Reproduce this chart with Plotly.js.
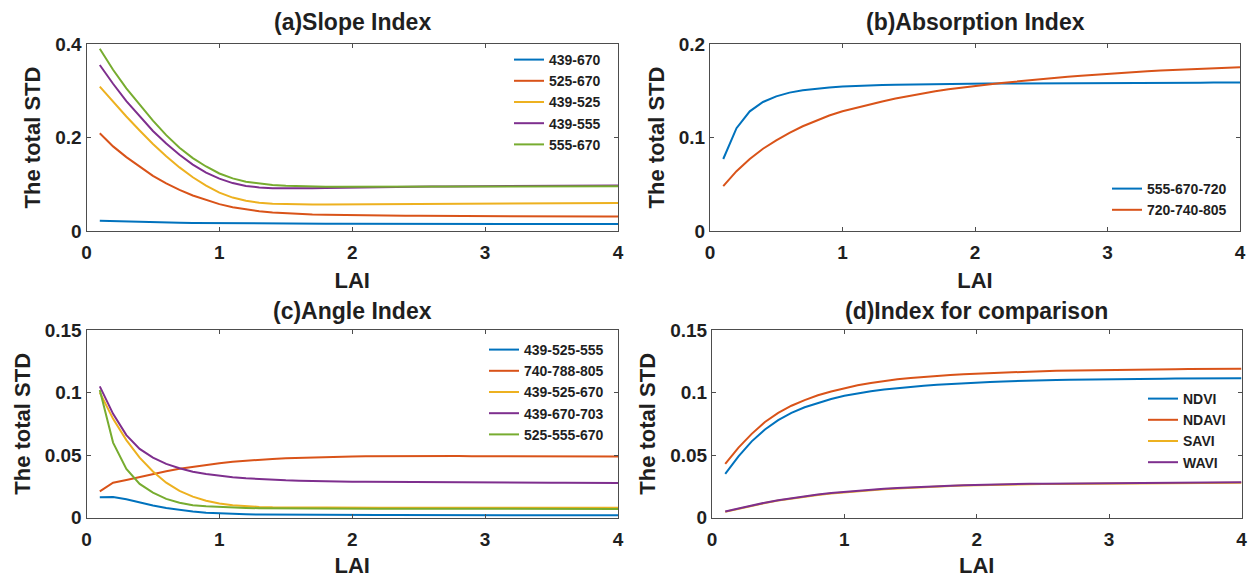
<!DOCTYPE html>
<html>
<head>
<meta charset="utf-8">
<script src="https://cdn.plot.ly/plotly-3.0.1.min.js"></script>
<style>html,body{margin:0;padding:0;background:#fff;}#chart{width:1248px;height:578px;}</style>
</head>
<body>
<div id="chart"></div>
<script>
// ---------------- DATA ----------------
const LAI = [0.1,0.2,0.3,0.4,0.5,0.6,0.7,0.8,0.9,1.0,
             1.1,1.2,1.3,1.4,1.5,1.6,1.7,1.8,1.9,2.0,
             2.1,2.2,2.3,2.4,2.5,2.6,2.7,2.8,2.9,3.0,
             3.1,3.2,3.3,3.4,3.5,3.6,3.7,3.8,3.9,4.0];

// (a) Slope Index
const slopeNames = ["439-670","525-670","439-525","439-555","555-670"];
const slope_439_670 = [0.0220,0.0210,0.0200,0.0192,0.0185,0.0180,0.0175,0.0171,0.0168,0.0165,
  0.0163,0.0161,0.0160,0.0159,0.0158,0.0157,0.0156,0.0156,0.0155,0.0155,
  0.0154,0.0154,0.0154,0.0153,0.0153,0.0153,0.0152,0.0152,0.0152,0.0152,
  0.0151,0.0151,0.0151,0.0151,0.0151,0.0150,0.0150,0.0150,0.0150,0.0150];
const slope_525_670 = [0.209,0.181,0.158,0.137,0.118,0.102,0.088,0.076,0.066,0.0575,
  0.0508,0.0458,0.0422,0.0396,0.0377,0.0363,0.0353,0.0345,0.0339,0.0335,
  0.0332,0.0329,0.0327,0.0325,0.0324,0.0322,0.0321,0.0320,0.0319,0.0318,
  0.0317,0.0316,0.0315,0.0314,0.0313,0.0312,0.0311,0.0310,0.0310,0.0309];
const slope_439_525 = [0.309,0.276,0.245,0.215,0.186,0.160,0.136,0.115,0.097,0.082,
  0.0715,0.0648,0.0605,0.0584,0.0573,0.0568,0.0566,0.0566,0.0567,0.0569,
  0.0571,0.0573,0.0575,0.0577,0.0579,0.0581,0.0583,0.0585,0.0587,0.0589,
  0.0590,0.0592,0.0593,0.0595,0.0596,0.0597,0.0598,0.0599,0.0600,0.0601];
const slope_439_555 = [0.355,0.315,0.278,0.245,0.214,0.187,0.163,0.142,0.125,0.112,
  0.1025,0.0965,0.0932,0.0917,0.0911,0.0910,0.0913,0.0918,0.0924,0.0930,
  0.0935,0.0939,0.0943,0.0946,0.0949,0.0952,0.0954,0.0956,0.0958,0.0960,
  0.0962,0.0964,0.0966,0.0967,0.0969,0.0970,0.0971,0.0972,0.0973,0.0974];
const slope_555_670 = [0.390,0.345,0.305,0.270,0.236,0.205,0.178,0.156,0.138,0.123,
  0.1125,0.1055,0.1012,0.0985,0.0968,0.0957,0.0950,0.0946,0.0944,0.0943,
  0.0943,0.0943,0.0944,0.0945,0.0946,0.0947,0.0948,0.0949,0.0950,0.0951,
  0.0952,0.0953,0.0954,0.0955,0.0955,0.0956,0.0957,0.0957,0.0958,0.0958];

// (b) Absorption Index
const absNames = ["555-670-720","720-740-805"];
const abs_555_670_720 = [0.077,0.110,0.128,0.138,0.144,0.148,0.1505,0.1522,0.1535,0.1545,
  0.1552,0.1557,0.1561,0.1564,0.1567,0.1569,0.1571,0.1573,0.1575,0.1576,
  0.1577,0.1578,0.1579,0.1580,0.1581,0.1582,0.1582,0.1583,0.1583,0.1584,
  0.1584,0.1585,0.1585,0.1585,0.1586,0.1586,0.1586,0.1587,0.1587,0.1587];
const abs_720_740_805 = [0.048,0.064,0.077,0.088,0.097,0.105,0.112,0.118,0.1235,0.128,
  0.1318,0.1353,0.1386,0.1416,0.1444,0.1470,0.1494,0.1515,0.1535,0.1552,
  0.1568,0.1583,0.1598,0.1612,0.1625,0.1638,0.1650,0.1661,0.1672,0.1682,
  0.1692,0.1701,0.1709,0.1717,0.1724,0.1730,0.1736,0.1742,0.1747,0.1752];

// (c) Angle Index
const angNames = ["439-525-555","740-788-805","439-525-670","439-670-703","525-555-670"];
const ang_439_525_555 = [0.0163,0.0165,0.0148,0.0122,0.0097,0.0077,0.0061,0.0049,0.0040,0.0034,
  0.0030,0.0027,0.0025,0.0024,0.0023,0.0023,0.0022,0.0022,0.0022,0.0022,
  0.0021,0.0021,0.0021,0.0021,0.0021,0.0021,0.0021,0.0021,0.0021,0.0021,
  0.0020,0.0020,0.0020,0.0020,0.0020,0.0020,0.0020,0.0020,0.0020,0.0020];
const ang_740_788_805 = [0.021,0.028,0.0302,0.0327,0.0350,0.0372,0.0391,0.0408,0.0423,0.0436,
  0.0447,0.0456,0.0464,0.0470,0.0475,0.0479,0.0483,0.0486,0.0488,0.0490,
  0.0491,0.0492,0.0492,0.0493,0.0493,0.0493,0.0493,0.0493,0.0492,0.0492,
  0.0492,0.0491,0.0491,0.0491,0.0490,0.0490,0.0490,0.0489,0.0489,0.0489];
const ang_439_525_670 = [0.100,0.079,0.062,0.048,0.037,0.028,0.0215,0.0168,0.0135,0.0113,
  0.0099,0.0091,0.0086,0.0083,0.0082,0.0081,0.0081,0.0080,0.0080,0.0080,
  0.0080,0.0080,0.0080,0.0080,0.0080,0.0080,0.0080,0.0080,0.0080,0.0080,
  0.0080,0.0080,0.0080,0.0080,0.0080,0.0080,0.0080,0.0080,0.0080,0.0080];
const ang_439_670_703 = [0.105,0.083,0.066,0.055,0.048,0.043,0.0395,0.0368,0.0349,0.0335,
  0.0324,0.0315,0.0308,0.0303,0.0299,0.0296,0.0293,0.0291,0.0289,0.0288,
  0.0287,0.0286,0.0285,0.0284,0.0283,0.0283,0.0282,0.0282,0.0281,0.0281,
  0.0280,0.0280,0.0280,0.0279,0.0279,0.0279,0.0279,0.0278,0.0278,0.0278];
const ang_525_555_670 = [0.102,0.060,0.039,0.027,0.020,0.015,0.012,0.010,0.0091,0.0085,
  0.0080,0.0078,0.0076,0.0075,0.0075,0.0074,0.0074,0.0073,0.0073,0.0073,
  0.0072,0.0072,0.0072,0.0072,0.0072,0.0071,0.0071,0.0071,0.0071,0.0071,
  0.0070,0.0070,0.0070,0.0070,0.0070,0.0070,0.0070,0.0070,0.0070,0.0070];

// (d) Index for comparison
const cmpNames = ["NDVI","NDAVI","SAVI","WAVI"];
const cmp_NDVI = [0.035,0.049,0.061,0.0705,0.078,0.0838,0.0883,0.0918,0.0948,0.0975,
  0.0994,0.1010,0.1024,0.1036,0.1046,0.1055,0.1063,0.1070,0.1076,0.1081,
  0.1085,0.1089,0.1093,0.1096,0.1099,0.1101,0.1103,0.1105,0.1107,0.1108,
  0.1109,0.1110,0.1111,0.1111,0.1112,0.1112,0.1113,0.1113,0.1113,0.1114];
const cmp_NDAVI = [0.043,0.056,0.067,0.0765,0.0838,0.0895,0.0940,0.0978,0.1009,0.1035,
  0.1058,0.1077,0.1093,0.1106,0.1117,0.1126,0.1134,0.1141,0.1147,0.1152,
  0.1157,0.1161,0.1165,0.1168,0.1171,0.1174,0.1176,0.1178,0.1180,0.1182,
  0.1183,0.1184,0.1185,0.1186,0.1187,0.1188,0.1188,0.1189,0.1189,0.1190];
const cmp_SAVI = [0.0047,0.0072,0.0097,0.0117,0.0137,0.0154,0.0167,0.0182,0.0194,0.0204,
  0.0213,0.0221,0.0228,0.0234,0.0240,0.0245,0.0249,0.0253,0.0257,0.0260,
  0.0262,0.0264,0.0266,0.0268,0.0269,0.0270,0.0271,0.0272,0.0273,0.0274,
  0.0275,0.0276,0.0277,0.0277,0.0278,0.0278,0.0279,0.0279,0.0280,0.0280];
const cmp_WAVI = [0.0050,0.0075,0.0100,0.0120,0.0140,0.0157,0.0170,0.0185,0.0197,0.0207,
  0.0216,0.0224,0.0231,0.0237,0.0243,0.0248,0.0252,0.0256,0.0260,0.0263,
  0.0265,0.0267,0.0269,0.0271,0.0272,0.0273,0.0274,0.0275,0.0276,0.0277,
  0.0278,0.0279,0.0280,0.0280,0.0281,0.0281,0.0282,0.0282,0.0283,0.0283];

// titles & ticks
const panelTitles = ["(a)Slope Index","(b)Absorption Index","(c)Angle Index","(d)Index for comparison"];
const xTickVals = [0,1,2,3,4];
const yTicksA = [0,0.2,0.4];
const yTicksB = [0,0.1,0.2];
const yTicksCD = [0,0.05,0.1,0.15];
const yTickTextA = ["0","0.2","0.4"];
const yTickTextB = ["0","0.1","0.2"];
const yTickTextCD = ["0","0.05","0.1","0.15"];

// ---------------- STYLE ----------------
const COLORS = ["#0072BD","#D95319","#EDB120","#7E2F8E","#77AC30"];
const FAM = "Liberation Sans, Arial, Helvetica, sans-serif";
const TXT = "#1f1f1f";
const AXC = "#4d4d4d";

function mk(names, series, ax){
  return series.map((s,i)=>({
    type:"scatter", mode:"lines", x:LAI, y:s, name:names[i],
    xaxis:"x"+(ax===1?"":ax), yaxis:"y"+(ax===1?"":ax),
    legend: "legend"+(ax===1?"":ax),
    line:{color:COLORS[i], width:2}
  }));
}
const data = [].concat(
  mk(slopeNames,[slope_439_670,slope_525_670,slope_439_525,slope_439_555,slope_555_670],1),
  mk(absNames,[abs_555_670_720,abs_720_740_805],2),
  mk(angNames,[ang_439_525_555,ang_740_788_805,ang_439_525_670,ang_439_670_703,ang_525_555_670],3),
  mk(cmpNames,[cmp_NDVI,cmp_NDAVI,cmp_SAVI,cmp_WAVI],4)
);

const W=1248,H=578;
const px = v=>v/W, py = v=>1-v/H;
const dom = {
  a:{x:[px(86.5),px(618)], y:[py(231),py(44)]},
  b:{x:[px(710),px(1240)], y:[py(231),py(44)]},
  c:{x:[px(86.5),px(618)], y:[py(517.7),py(330)]},
  d:{x:[px(712),px(1241.5)], y:[py(517.7),py(330)]}
};

function xax(d, anchor){
  return {domain:d, anchor:anchor, range:[0,4], tickvals:xTickVals, ticktext:xTickVals.map(String),
    showline:true, mirror:"ticks", linecolor:AXC, linewidth:1, ticks:"inside", ticklen:4, tickcolor:AXC,
    showgrid:false, zeroline:false, fixedrange:true, ticklabeloverflow:"allow", ticklabelstandoff:4,
    tickfont:{family:FAM,size:19,color:TXT,weight:"bold"},
    title:{text:"LAI", font:{family:FAM,size:22,color:TXT,weight:"bold"}, standoff:10}};
}
function yax(d, anchor, rng, tv, tt){
  return {domain:d, anchor:anchor, range:rng, tickvals:tv, ticktext:tt,
    showline:true, mirror:"ticks", linecolor:AXC, linewidth:1, ticks:"inside", ticklen:4, tickcolor:AXC,
    showgrid:false, zeroline:false, fixedrange:true, ticklabeloverflow:"allow",
    tickfont:{family:FAM,size:19,color:TXT,weight:"bold"},
    title:{text:"The total STD", font:{family:FAM,size:22,color:TXT,weight:"bold"}, standoff:8}};
}
function leg(xp, yp){
  return {x:px(xp), y:py(yp), xanchor:"left", yanchor:"top", bgcolor:"rgba(0,0,0,0)", borderwidth:0,
    font:{family:FAM,size:14,color:TXT,weight:"bold"}, tracegroupgap:0, itemwidth:30};
}
function ttl(text, d, yc){
  return {text:text, xref:"paper", yref:"paper", x:(d[0]+d[1])/2, y:py(yc), xanchor:"center", yanchor:"middle",
    showarrow:false, font:{family:FAM,size:23,color:TXT,weight:"bold"}};
}

const layout = {
  width:W, height:H, margin:{l:0,r:0,t:0,b:0}, paper_bgcolor:"#fff", plot_bgcolor:"#fff",
  showlegend:true, font:{family:FAM,color:TXT},
  xaxis: xax(dom.a.x,"y"),  yaxis: yax(dom.a.y,"x",[0,0.4],yTicksA,yTickTextA),
  xaxis2:xax(dom.b.x,"y2"), yaxis2:yax(dom.b.y,"x2",[0,0.2],yTicksB,yTickTextB),
  xaxis3:xax(dom.c.x,"y3"), yaxis3:yax(dom.c.y,"x3",[0,0.15],yTicksCD,yTickTextCD),
  xaxis4:xax(dom.d.x,"y4"), yaxis4:yax(dom.d.y,"x4",[0,0.15],yTicksCD,yTickTextCD),
  legend: leg(509,44), legend2: leg(1107,173), legend3: leg(484,334), legend4: leg(1143,383),
  annotations:[ttl(panelTitles[0],dom.a.x,22), ttl(panelTitles[1],dom.b.x,22),
               ttl(panelTitles[2],dom.c.x,311), ttl(panelTitles[3],dom.d.x,311)]
};
Plotly.newPlot("chart", data, layout, {staticPlot:true, displayModeBar:false});
</script>
</body>
</html>
